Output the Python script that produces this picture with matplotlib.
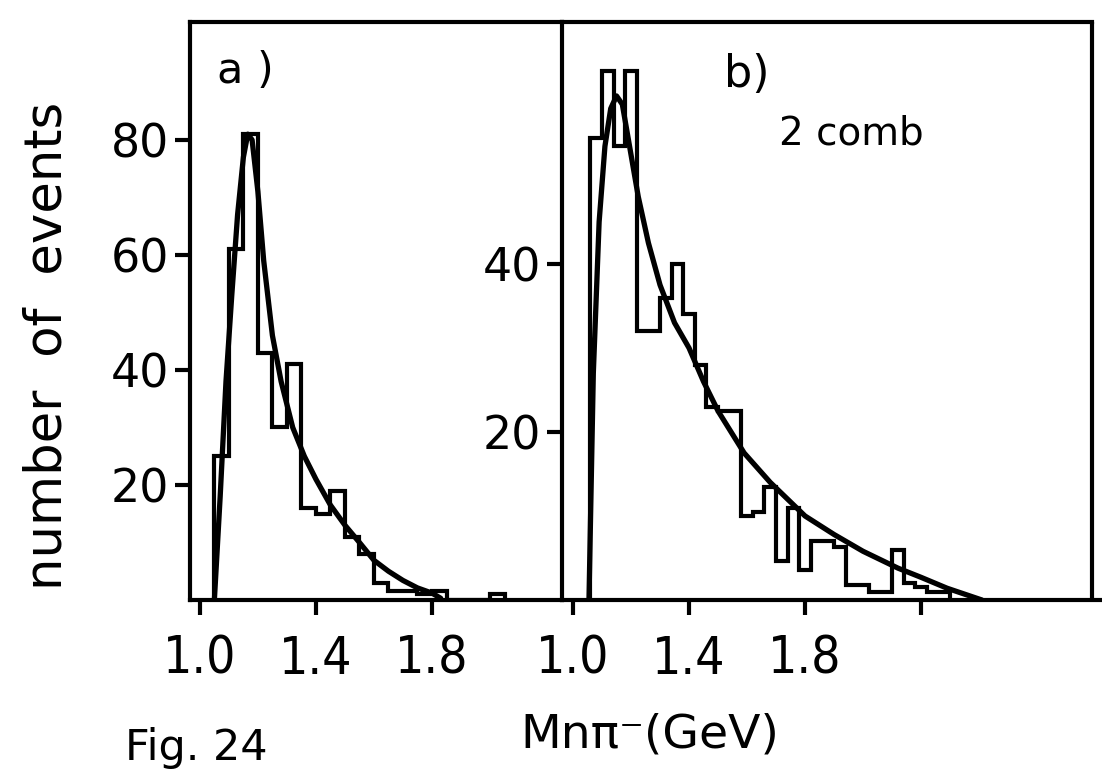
import matplotlib.pyplot as plt
from matplotlib import font_manager

# panel a) : histogram (0.05 GeV bins) and fitted curve
a_edges = [1.05, 1.10, 1.15, 1.20, 1.25, 1.30, 1.35, 1.40, 1.45, 1.50, 1.55,
           1.60, 1.65, 1.70, 1.75, 1.80, 1.85, 1.90, 1.95, 2.00, 2.05]
a_counts = [25, 61, 81, 43, 30, 41, 16, 15, 19, 11, 8,
            3, 1.5, 1.5, 1, 1.5, 0, 0, 0, 1]
a_fit_x = [1.05, 1.07, 1.09, 1.11, 1.13, 1.15, 1.165, 1.18, 1.20, 1.22, 1.25,
           1.28, 1.32, 1.36, 1.40, 1.45, 1.50, 1.55, 1.60, 1.65, 1.70, 1.75,
           1.80, 1.83]
a_fit_y = [0, 18, 38, 53, 67, 77, 81, 80, 71, 59, 46,
           38, 30, 25, 21, 16.5, 13, 10, 6.9, 5.0, 3.4, 2.1,
           1.2, 0.3]

# panel b) "2 comb" : histogram (0.04 GeV bins) and fitted curve
b_edges = [1.06, 1.10, 1.14, 1.18, 1.22, 1.26, 1.30, 1.34, 1.38, 1.42, 1.46,
           1.50, 1.54, 1.58, 1.62, 1.66, 1.70, 1.74, 1.78, 1.82, 1.86, 1.90,
           1.94, 1.98, 2.02, 2.06, 2.10, 2.14, 2.18, 2.22, 2.26, 2.30]
b_counts = [55, 63, 54, 63, 32, 32, 36, 40, 34, 28, 23,
            22.5, 22.5, 10, 10.5, 13.5, 4.6, 11, 3.6, 7, 7,
            6.3, 1.8, 1.8, 1, 1, 6, 2, 1.5, 1, 1]
b_fit_x = [1.055, 1.07, 1.09, 1.11, 1.13, 1.15, 1.17, 1.195, 1.225, 1.26, 1.30,
           1.35, 1.40, 1.45, 1.50, 1.59, 1.68, 1.80, 1.90, 2.00, 2.12, 2.20,
           2.29, 2.35, 2.41]
b_fit_y = [0, 27, 45, 54, 58.5, 60, 59, 54, 48, 42.5, 37.5,
           33, 30, 26, 22.5, 17.5, 14, 10, 7.8, 5.8, 3.8, 2.7,
           1.4, 0.7, 0]

x_ticks = [1.0, 1.4, 1.8]
x_labels = ["1.0", "1.4", "1.8"]
a_y_ticks = [20, 40, 60, 80]
b_y_ticks = [20, 40]

LW = 3.0
CURVE_LW = 3.8


def narrow_font(size):
    # the scan uses a narrow face for the x numbers; take one if installed
    for f in font_manager.fontManager.ttflist:
        st = str(f.stretch)
        if ("condensed" in st or "Narrow" in f.name) and f.style == "normal" \
                and f.weight in (400, "normal", "regular"):
            return font_manager.FontProperties(fname=f.fname, size=size)
    return font_manager.FontProperties(family="DejaVu Sans", size=size - 6)


xfont = narrow_font(37)

fig = plt.figure(figsize=(11.02, 7.72), dpi=100)
ax1 = fig.add_axes([190 / 1102, 1 - 600 / 772, 372 / 1102, 578 / 772])
ax2 = fig.add_axes([562 / 1102, 1 - 600 / 772, 540 / 1102, 578 / 772])

for ax in (ax1, ax2):
    for s in ax.spines.values():
        s.set_linewidth(LW)
    ax.tick_params(direction="out", width=LW, length=11, labelsize=33,
                   pad=4)
    ax.tick_params(axis="x", pad=14)

# panel a
ax1.stairs(a_counts, a_edges, color="k", lw=LW, baseline=0)
ax1.plot(a_fit_x, a_fit_y, color="k", lw=CURVE_LW, solid_capstyle="round")
ax1.set_xlim(0.966, 2.248)
ax1.set_ylim(0, 100.5)
ax1.spines["right"].set_visible(False)
ax1.set_xticks(x_ticks)
ax1.set_xticklabels(x_labels, fontproperties=xfont)
ax1.set_yticks(a_y_ticks)
ax1.set_ylabel("number  of  events", fontsize=37)
ax1.yaxis.set_label_coords(-0.315, 0.44)
ax1.text(1.06, 92, "a )", fontsize=31, va="center")

# panel b
ax2.stairs(b_counts, b_edges, color="k", lw=LW, baseline=0)
ax2.plot(b_fit_x, b_fit_y, color="k", lw=CURVE_LW, solid_capstyle="round")
ax2.set_xlim(0.962, 2.824)
ax2.set_ylim(0, 68.8)
ax2.spines["right"].set_visible(False)
ax2.spines["top"].set_bounds(0.962, 2.79)
ax2.axvline(2.79, color="k", lw=LW)
ax2.set_xticks(x_ticks + [2.2])
ax2.set_xticklabels(x_labels + [""], fontproperties=xfont)
ax2.set_yticks(b_y_ticks)
ax2.text(1.52, 62.5, "b)", fontsize=32, va="center")
ax2.text(1.71, 55.5, "2 comb", fontsize=28, va="center")

fig.text(0.59, 0.048, "Mnπ⁻(GeV)", fontsize=34, ha="center", va="center")
fig.text(0.113, 0.058, "Fig. 24", fontsize=31, va="top")

fig.savefig("out.png", dpi=100)
